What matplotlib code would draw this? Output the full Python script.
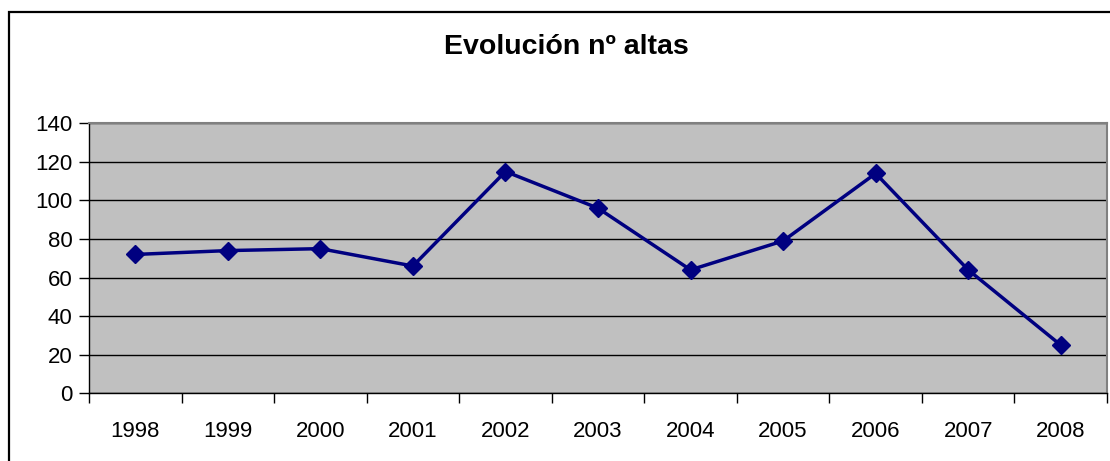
import matplotlib
matplotlib.use("Agg")
import matplotlib.pyplot as plt
from matplotlib.patches import Rectangle

years = ["1998", "1999", "2000", "2001", "2002", "2003", "2004", "2005", "2006", "2007", "2008"]
altas = [72, 74, 75, 66, 115, 96, 64, 79, 114, 64, 25]
title = "Evolución nº altas"
yticks = [0, 20, 40, 60, 80, 100, 120, 140]

plt.rcParams['font.family'] = ['Liberation Sans', 'DejaVu Sans']

fig = plt.figure(figsize=(11.10, 4.61), dpi=100)
W, H = 1110, 461
L, R, T, B = 89, 1107, 123.3, 393.3
ax = fig.add_axes([L / W, 1 - B / H, (R - L) / W, (B - T) / H])

# outer chart frame
fig.patches.append(Rectangle((9 / W, -0.05), 1.2, 1 - 12.5 / H + 0.05,
                             transform=fig.transFigure, fill=False,
                             edgecolor='black', linewidth=1.6, zorder=0))

x = list(range(len(years)))
ax.set_facecolor('#C0C0C0')
ax.plot(x, altas, color='#000080', linewidth=2.5, marker='D', markersize=9.5,
        markerfacecolor='#000080', markeredgecolor='#000080', zorder=3)

ax.set_xlim(-0.5, len(years) - 0.5)
ax.set_ylim(0, 140)
ax.set_yticks(yticks)
ax.set_yticklabels([str(v) for v in yticks], fontsize=16)
ax.yaxis.grid(True, color='black', linewidth=1.0)
ax.set_axisbelow(True)

ax.set_xticks([i - 0.5 for i in range(len(years) + 1)])
ax.set_xticklabels([])
ax.set_xticks(x, minor=True)
ax.set_xticklabels(years, minor=True, fontsize=16)
ax.tick_params(axis='x', which='minor', length=0, pad=20)
ax.tick_params(axis='x', which='major', length=7, width=1.0, direction='out')
ax.tick_params(axis='y', length=7, width=1.0, direction='out', pad=5)

for s in ['top', 'right']:
    ax.spines[s].set_color('#808080')
    ax.spines[s].set_linewidth(1.5)
for s in ['left', 'bottom']:
    ax.spines[s].set_color('black')
    ax.spines[s].set_linewidth(1.0)

fig.text(566 / W, 1 - 47 / H, title, ha='center', va='center',
         fontsize=20.5, fontweight='bold')

fig.savefig("out.png", dpi=100)
